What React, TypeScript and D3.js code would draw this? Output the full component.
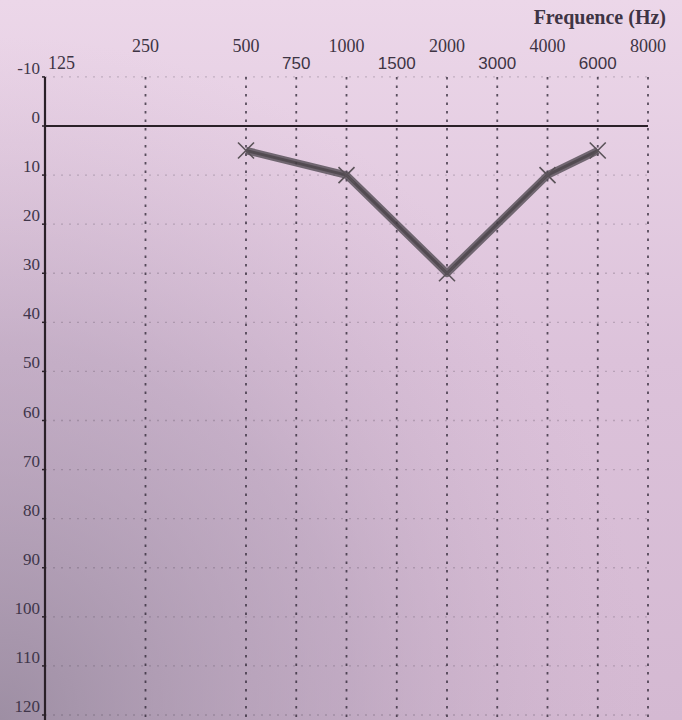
import React from 'react';
import * as d3 from 'd3';

const frequencies = [125, 250, 500, 750, 1000, 1500, 2000, 3000, 4000, 6000, 8000];
const upperRowFreqs = [250, 500, 1000, 2000, 4000, 8000];
const lowerRowFreqs = [125, 750, 1500, 3000, 6000];
const dbTicks = [-10, 0, 10, 20, 30, 40, 50, 60, 70, 80, 90, 100, 110, 120];
const measuredFreqs = [500, 1000, 2000, 4000, 6000];
const measuredDb = [5, 10, 30, 10, 5];
const axisTitle = 'Frequence (Hz)';

const W = 682;
const H = 720;

const halfOctave = (f: number) => Math.round(2 * Math.log2(f / 125));

export default function App() {
  const x = d3.scaleLinear().domain([0, 12]).range([45, 648]);
  const y = d3.scaleLinear().domain([0, 120]).range([126, 715]);
  const fx = (f: number) => x(halfOctave(f));

  const points = measuredFreqs.map((f, i) => [fx(f), y(measuredDb[i])] as [number, number]);
  const line = d3.line()(points) || '';

  const serif = "'Liberation Serif', 'DejaVu Serif', serif";
  const sans = "'Liberation Sans', Arial, sans-serif";
  const top = y(-10);
  const bottom = H;
  const ink = '#3a3040';

  return (
    <svg width={W} height={H} style={{ position: 'absolute', left: 0, top: 0 }}>
      <defs>
        <linearGradient id="bg" x1="0" y1="0" x2="0" y2="1">
          <stop offset="0" stopColor="#ecd7e9" />
          <stop offset="0.5" stopColor="#dcc2da" />
          <stop offset="1" stopColor="#d4b9d2" />
        </linearGradient>
        <radialGradient id="shade" cx="0" cy="1" r="0.95">
          <stop offset="0" stopColor="#908498" stopOpacity={0.8} />
          <stop offset="0.55" stopColor="#a695ad" stopOpacity={0.42} />
          <stop offset="1" stopColor="#c9afc8" stopOpacity={0} />
        </radialGradient>
      </defs>
      <rect x={0} y={0} width={W} height={H} fill="url(#bg)" />
      <rect x={0} y={0} width={W} height={H} fill="url(#shade)" />

      {/* horizontal faint dotted grid */}
      {dbTicks.filter(d => d !== 0).map(d => (
        <line key={'h' + d} x1={x(0)} x2={x(12)} y1={y(d)} y2={y(d)}
          stroke={ink} strokeOpacity={0.22} strokeWidth={1.3} strokeDasharray="2,6" />
      ))}

      {/* vertical dotted grid */}
      {frequencies.filter(f => f !== 125).map(f => (
        <line key={'v' + f} x1={fx(f)} x2={fx(f)} y1={top} y2={bottom}
          stroke="#2a2230" strokeOpacity={0.75} strokeWidth={1.8} strokeDasharray="2.5,6" />
      ))}

      {/* zero line */}
      <line x1={x(0)} x2={x(12)} y1={y(0)} y2={y(0)} stroke="#2a2028" strokeWidth={1.8} />
      {/* y axis */}
      <line x1={x(0)} x2={x(0)} y1={top} y2={bottom} stroke="#2a2028" strokeWidth={2.2} />
      {dbTicks.map(d => (
        <line key={'t' + d} x1={x(0) - 3} x2={x(0)} y1={y(d)} y2={y(d)} stroke="#2a2028" strokeWidth={1.5} />
      ))}

      {/* y labels */}
      {dbTicks.map(d => (
        <text key={'yl' + d} x={x(0) - 5} y={y(d) - 3} textAnchor="end"
          fontFamily={serif} fontSize={17} fill="#40364a">{d}</text>
      ))}

      {/* x labels */}
      {upperRowFreqs.map(f => (
        <text key={'xu' + f} x={fx(f)} y={52} textAnchor="middle"
          fontFamily={serif} fontSize={18} fill="#3e3444">{f}</text>
      ))}
      {lowerRowFreqs.map((f, i) => (
        <text key={'xl' + f} x={fx(f) + (i === 0 ? 3 : 0)} y={69} textAnchor={i === 0 ? 'start' : 'middle'}
          fontFamily={i === 0 ? serif : sans} fontSize={i === 0 ? 18 : 17} fill="#3e3444">{f}</text>
      ))}

      <text x={666} y={24} textAnchor="end" fontFamily={serif} fontSize={20} fontWeight="bold" fill="#3e3444">
        {axisTitle}
      </text>

      {/* data line */}
      <path d={line} fill="none" stroke="#524c54" strokeWidth={7.5} strokeLinejoin="round" strokeOpacity={0.8} />
      <path d={line} fill="none" stroke="#3a3438" strokeWidth={3} strokeLinejoin="round" strokeOpacity={0.55} />
      {points.map(([px, py], i) => (
        <g key={'m' + i} stroke="#5a5258" strokeWidth={1.6}>
          <line x1={px - 8} y1={py - 8} x2={px + 8} y2={py + 8} />
          <line x1={px - 8} y1={py + 8} x2={px + 8} y2={py - 8} />
        </g>
      ))}
    </svg>
  );
}
